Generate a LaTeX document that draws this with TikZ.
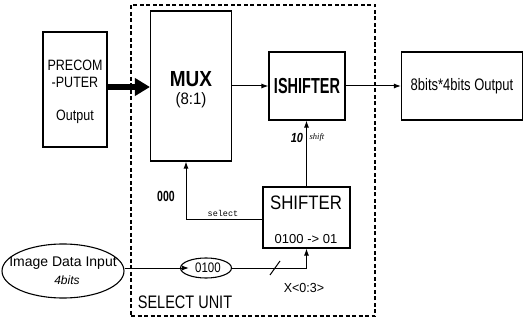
\documentclass[tikz,border=0pt]{standalone}
\usepackage{fontspec}
\setmainfont{Liberation Sans}
\newfontfamily\monof{Liberation Mono}
\newfontfamily\seriff{Liberation Serif}
\usepackage{graphicx}
\usetikzlibrary{arrows.meta,shapes.geometric}
\newcommand\tall[2][1.3]{\scalebox{1}[#1]{#2}}
\begin{document}
\begin{tikzpicture}[x=1pt,y=-1pt,
  box/.style={draw,line width=1.1pt,inner sep=0pt,rectangle},
  lbl/.style={inner sep=0pt,anchor=center},
  arr/.style={line width=1pt,-{Latex[length=7pt,width=5pt]}},
  ln/.style={line width=1pt},
  elbox/.style={draw,line width=1.1pt,ellipse,inner sep=0pt}]
\useasboundingbox (0,0) rectangle (523,321);

% select unit dashed frame
\node[draw,line width=1.1pt,dash pattern=on 4pt off 2.5pt,inner sep=0pt,
  minimum width=244pt,minimum height=311pt] (unit) at (253,160.5) {};

% boxes
\node[box,minimum width=64pt,minimum height=115pt] (pre) at (75,89.5) {};
\node[box,minimum width=81pt,minimum height=150pt] (mux) at (191,86) {};
\node[box,minimum width=76pt,minimum height=68pt] (ish) at (307,86)
  {\fontsize{14.5}{16}\selectfont\bfseries\tall[1.5]{ISHIFTER}};
\node[box,minimum width=121pt,minimum height=68pt] (out) at (462,86)
  {\fontsize{13}{15}\selectfont\tall[1.28]{8bits*4bits Output}};
\node[box,minimum width=87pt,minimum height=61pt] (shf) at (306.5,217.5) {};
\node[elbox,minimum width=122pt,minimum height=54pt] (img) at (63,271) {};
\node[elbox,minimum width=51pt,minimum height=20pt] (zero) at (206,268) {};

% texts inside boxes
\node[lbl] (pre1) at (75,65) {\fontsize{12.5}{14}\selectfont\tall[1.2]{PRECOM}};
\node[lbl] (pre2) at (75,82) {\fontsize{12.5}{14}\selectfont\tall[1.2]{-PUTER}};
\node[lbl] (pre3) at (75,117) {\fontsize{12.5}{14}\selectfont\tall[1.2]{Output}};
\node[lbl] (mux1) at (191,79) {\fontsize{19}{21}\selectfont\bfseries\tall[1.15]{MUX}};
\node[lbl] (mux2) at (191,100) {\fontsize{15}{17}\selectfont\tall[1.1]{(8:1)}};
\node[lbl] (shf1) at (306,203) {\fontsize{16.8}{19}\selectfont\tall[1.16]{SHIFTER}};
\node[lbl] (shf2) at (306,239) {\fontsize{13}{15}\selectfont 0100 -> 01};
\node[lbl] (img1) at (63,263) {\fontsize{14}{16}\selectfont Image Data Input};
\node[lbl] (img2) at (67,280) {\fontsize{12}{14}\selectfont\itshape 4bits};
\node[lbl] (zero1) at (208,268) {\fontsize{11.5}{13}\selectfont\tall[1.2]{0100}};

% free labels
\node[lbl] (sel) at (185,302) {\fontsize{14.5}{16}\selectfont\tall[1.25]{SELECT UNIT}};
\node[lbl] (z3) at (166,196) {\fontsize{10.5}{12}\selectfont\bfseries\tall[1.4]{000}};
\node[lbl] (selt) at (223,213) {\fontsize{8.5}{10}\selectfont\monof select};
\node[lbl] (ten) at (297,138) {\fontsize{11}{13}\selectfont\bfseries\itshape\tall[1.2]{10}};
\node[lbl] (shft) at (317,137) {\fontsize{8.5}{10}\selectfont\seriff\itshape shift};
\node[lbl] (xl) at (304,288) {\fontsize{12.5}{14}\selectfont\tall[1.05]{X<0:3>}};

% connectors
\draw[line width=5.5pt,-{Triangle[length=15pt,width=17pt]}] (pre.east |- 0,87) -- (mux.west |- 0,87);
\draw[arr] (mux.east) -- (ish.west);
\draw[arr] (ish.east) -- (out.west);
\draw[arr] (shf.north) -- (shf.north |- ish.south);
\draw[arr] (shf.west |- 0,219) -| ([xshift=-5pt]mux.south);
\draw[arr,shorten >=-9pt] (zero.west -| img.east) -- (zero.west);
\draw[arr] (zero.east) -| (shf.south);
\coordinate (sl1) at (270,275);
\coordinate (sl2) at (280,261);
\draw[ln] (sl1) -- (sl2);
\end{tikzpicture}
\end{document}
